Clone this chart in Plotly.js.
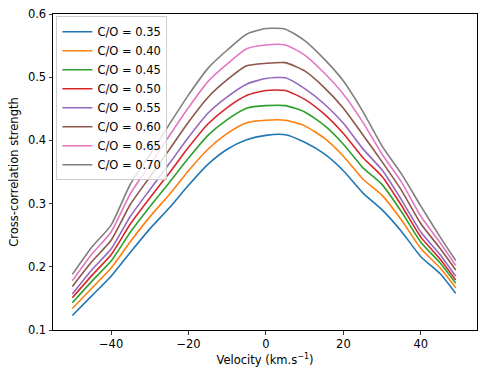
<!DOCTYPE html>
<html>
<head>
<meta charset="utf-8">
<script src="https://cdn.plot.ly/plotly-3.0.1.min.js"></script>
<style>
  html, body { margin: 0; padding: 0; background: #fff; }
  #chart { width: 490px; height: 378px; }
</style>
</head>
<body>
<div id="chart"></div>
<script>
// velocity grid (km/s)
var velocity = [-50, -45, -40, -35, -30, -25, -20, -15, -10, -5, 0, 5, 10, 15, 20, 25, 30, 35, 40, 45, 49];

// cross-correlation strength for each C/O ratio
var co035 = [0.123, 0.154, 0.185, 0.223, 0.260, 0.293, 0.329, 0.362, 0.386, 0.401, 0.408, 0.409, 0.397, 0.379, 0.352, 0.317, 0.290, 0.256, 0.216, 0.189, 0.158];
var co040 = [0.134, 0.166, 0.198, 0.240, 0.279, 0.314, 0.352, 0.386, 0.411, 0.428, 0.432, 0.432, 0.423, 0.404, 0.375, 0.339, 0.313, 0.274, 0.229, 0.198, 0.167];
var co045 = [0.143, 0.177, 0.209, 0.255, 0.295, 0.333, 0.372, 0.408, 0.433, 0.451, 0.455, 0.455, 0.445, 0.424, 0.394, 0.357, 0.330, 0.287, 0.239, 0.206, 0.174];
var co050 = [0.151, 0.186, 0.219, 0.268, 0.309, 0.348, 0.389, 0.426, 0.452, 0.471, 0.479, 0.479, 0.465, 0.442, 0.411, 0.373, 0.343, 0.297, 0.247, 0.212, 0.179];
var co055 = [0.157, 0.195, 0.228, 0.280, 0.322, 0.363, 0.405, 0.443, 0.469, 0.489, 0.498, 0.499, 0.482, 0.458, 0.427, 0.387, 0.353, 0.306, 0.255, 0.219, 0.185];
var co060 = [0.169, 0.208, 0.242, 0.299, 0.342, 0.385, 0.429, 0.468, 0.496, 0.518, 0.522, 0.523, 0.510, 0.484, 0.451, 0.409, 0.366, 0.321, 0.268, 0.229, 0.195];
var co065 = [0.178, 0.220, 0.255, 0.316, 0.361, 0.407, 0.452, 0.493, 0.521, 0.545, 0.551, 0.551, 0.535, 0.507, 0.473, 0.429, 0.378, 0.334, 0.280, 0.238, 0.202];
var co070 = [0.188, 0.231, 0.266, 0.331, 0.377, 0.425, 0.472, 0.514, 0.543, 0.568, 0.577, 0.576, 0.558, 0.529, 0.494, 0.446, 0.391, 0.347, 0.296, 0.247, 0.210];

var labels = ['C/O = 0.35', 'C/O = 0.40', 'C/O = 0.45', 'C/O = 0.50', 'C/O = 0.55', 'C/O = 0.60', 'C/O = 0.65', 'C/O = 0.70'];
var series = [co035, co040, co045, co050, co055, co060, co065, co070];
var colors = ['#1f77b4', '#ff7f0e', '#2ca02c', '#d62728', '#9467bd', '#8c564b', '#e377c2', '#7f7f7f'];

var data = [];
for (var i = 0; i < series.length; i++) {
    data.push({
        x: velocity,
        y: series[i],
        name: labels[i],
        type: 'scatter',
        mode: 'lines',
        line: { color: colors[i], width: 1.6, shape: 'spline', smoothing: 0.6 }
    });
}

var axisStyle = {
    showgrid: false,
    zeroline: false,
    showline: true,
    linecolor: '#000',
    linewidth: 1,
    mirror: true,
    ticks: 'outside',
    ticklen: 3.5,
    tickwidth: 0.8,
    tickcolor: '#000',
    tickfont: { family: 'DejaVu Sans', size: 11.5, color: '#000' }
};

var layout = {
    width: 490,
    height: 378,
    margin: { l: 53, r: 13, t: 14, b: 48 },
    paper_bgcolor: '#fff',
    plot_bgcolor: '#fff',
    font: { family: 'DejaVu Sans', size: 11.5, color: '#000' },
    showlegend: true,
    legend: {
        x: 0.008, y: 0.993,
        xanchor: 'left', yanchor: 'top',
        bgcolor: 'rgba(255,255,255,0.8)',
        bordercolor: '#cccccc',
        borderwidth: 1,
        itemwidth: 30,
        font: { family: 'DejaVu Sans', size: 11.5, color: '#000' },
        tracegroupgap: 0
    },
    xaxis: Object.assign({}, axisStyle, {
        range: [-55, 54.5],
        tickvals: [-40, -20, 0, 20, 40],
        ticktext: ['\u221240', '\u221220', '0', '20', '40'],
        title: { text: 'Velocity (km.s<sup>\u22121</sup>)', font: { family: 'DejaVu Sans', size: 11.5 }, standoff: 5 }
    }),
    yaxis: Object.assign({}, axisStyle, {
        range: [0.1, 0.6],
        dtick: 0.1,
        tickformat: '.1f',
        title: { text: 'Cross-correlation strength', font: { family: 'DejaVu Sans', size: 11.5 }, standoff: 6 }
    })
};

Plotly.newPlot('chart', data, layout, { displayModeBar: false, staticPlot: true });
</script>
</body>
</html>
